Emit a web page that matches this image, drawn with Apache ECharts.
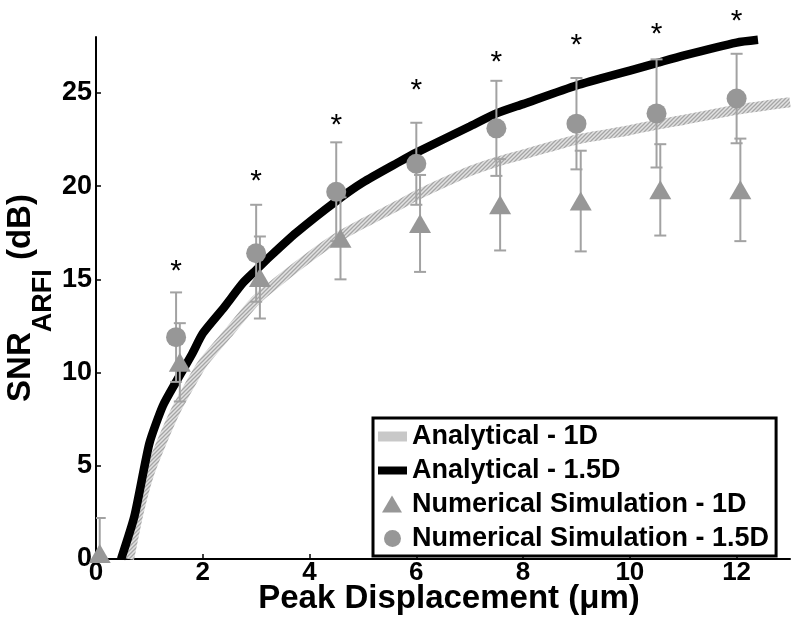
<!DOCTYPE html>
<html><head><meta charset="utf-8">
<script src="https://cdn.jsdelivr.net/npm/echarts@6/dist/echarts.min.js"></script>
<style>html,body{margin:0;padding:0;background:#fff}#c{width:800px;height:637px}</style>
</head><body><div id="c"></div>
<script>
// ---- tick labels ----
const xTicks = [0, 2, 4, 6, 8, 10, 12];
const yTicks = [0, 5, 10, 15, 20, 25];
const legendNames = ['Analytical - 1D', 'Analytical - 1.5D', 'Numerical Simulation - 1D', 'Numerical Simulation - 1.5D'];

// ---- Analytical 1D (grey curve) ----
const ana1D_x = [0.62, 0.8, 1.0, 1.25, 1.5, 1.75, 2.0, 2.5, 3.0, 3.5, 4.0, 4.5, 5.0, 5.68, 6.0, 7.0, 7.5, 8.0, 9.0, 10.0, 10.5, 11.0, 12.0, 13.0];
const ana1D_y = [0, 2.5, 4.6, 6.4, 8.0, 9.3, 10.5, 12.2, 13.9, 15.1, 16.2, 17.2, 18.0, 19.0, 19.5, 20.8, 21.3, 21.7, 22.5, 23.0, 23.3, 23.55, 24.1, 24.5];

// ---- Analytical 1.5D (black curve) ----
const ana15D_x = [0.47, 0.72, 1.0, 1.25, 1.5, 1.8, 2.0, 2.4, 2.75, 3.0, 3.25, 3.75, 4.5, 5.0, 5.68, 6.0, 7.0, 7.5, 8.0, 9.0, 10.0, 10.5, 11.0, 12.0, 12.4];
const ana15D_y = [0, 2.3, 6.2, 8.2, 9.5, 11.0, 12.1, 13.5, 14.8, 15.5, 16.2, 17.5, 19.2, 20.2, 21.3, 21.8, 23.2, 23.9, 24.4, 25.4, 26.2, 26.6, 27.0, 27.7, 27.85];

// ---- Numerical simulation 1D (triangles) ----
const sim1D_x = [0.07, 1.57, 3.07, 4.58, 6.07, 7.57, 9.08, 10.57, 12.07];
const sim1D_y = [0.3, 10.55, 15.1, 17.2, 18.0, 19.0, 19.2, 19.8, 19.8];
const sim1D_err = [1.9, 2.1, 2.2, 2.2, 2.6, 2.45, 2.7, 2.45, 2.75];

// ---- Numerical simulation 1.5D (circles) ----
const sim15D_x = [1.5, 3, 4.5, 6, 7.5, 9, 10.5, 12];
const sim15D_y = [11.9, 16.4, 19.7, 21.2, 23.1, 23.35, 23.9, 24.7];
const sim15D_err = [2.4, 2.6, 2.65, 2.2, 2.55, 2.45, 2.9, 2.4];

// ---- significance markers ----
const star_x = [1.5, 3, 4.5, 6, 7.5, 9, 10.5, 12];
const star_y = [15.8, 20.6, 23.6, 25.5, 27.0, 27.9, 28.5, 29.2];

const FONT = 'Liberation Sans, Arial, sans-serif';
const MARK = '#979797';
const ERR = '#a2a2a2';

const zip = (a, b) => a.map((v, i) => [v, b[i]]);
const zip3 = (a, b, c) => a.map((v, i) => [v, b[i], c[i]]);

function makeHatch() {
  const c = document.createElement('canvas');
  c.width = 4; c.height = 4;
  const g = c.getContext('2d');
  g.fillStyle = '#e2e2e2'; g.fillRect(0, 0, 4, 4);
  g.strokeStyle = '#a6a6a6'; g.lineWidth = 1.3;
  g.beginPath();
  g.moveTo(0, 4); g.lineTo(4, 0);
  g.moveTo(-1, 1); g.lineTo(1, -1);
  g.moveTo(3, 5); g.lineTo(5, 3);
  g.stroke();
  return c;
}
const HATCH = { image: makeHatch(), repeat: 'repeat' };

function errRender(params, api) {
  const x = api.value(0), y = api.value(1), e = api.value(2);
  const t = api.coord([x, y + e]);
  const b = api.coord([x, y - e]);
  const hw = 6;
  const st = { stroke: ERR, lineWidth: 2 };
  return { type: 'group', children: [
    { type: 'line', shape: { x1: t[0], y1: t[1], x2: b[0], y2: b[1] }, style: st },
    { type: 'line', shape: { x1: t[0] - hw, y1: t[1], x2: t[0] + hw, y2: t[1] }, style: st },
    { type: 'line', shape: { x1: b[0] - hw, y1: b[1], x2: b[0] + hw, y2: b[1] }, style: st }
  ]};
}

function starRender(params, api) {
  const p = api.coord([api.value(0), api.value(1)]);
  return { type: 'text', x: p[0], y: p[1] + 7,
    style: { text: '*', fontSize: 30, fontFamily: FONT, fill: '#000', align: 'center', verticalAlign: 'middle' } };
}

const chart = echarts.init(document.getElementById('c'), null, { renderer: 'canvas' });
chart.setOption({
  backgroundColor: '#fff',
  animation: false,
  grid: { left: 96, right: 10, top: 37, bottom: 78, containLabel: false, outerBoundsMode: 'none' },
  xAxis: {
    type: 'value', min: 0, max: 13, interval: 2,
    name: 'Peak Displacement (\u03bcm)', nameLocation: 'middle', nameGap: 23, nameMoveOverlap: false,
    nameTextStyle: { fontSize: 33, fontWeight: 'bold', fontFamily: FONT, color: '#000', padding: [0, 0, 0, 12] },
    axisLine: { show: true, onZero: false, lineStyle: { color: '#000', width: 2 } },
    axisTick: { show: true, inside: true, length: 5, lineStyle: { color: '#000', width: 1.5 }, customValues: xTicks },
    axisLabel: { show: true, margin: 1, fontSize: 26, fontWeight: 'bold', fontFamily: FONT, color: '#000', customValues: xTicks },
    splitLine: { show: false }
  },
  yAxis: {
    type: 'value', min: 0, max: 28, interval: 5,
    name: '{m|SNR}{s|ARFI}{m| (dB)}', nameLocation: 'middle', nameRotate: 90, nameGap: 45, nameMoveOverlap: false,
    nameTextStyle: {
      color: '#000',
      rich: {
        m: { fontSize: 33, fontWeight: 'bold', fontFamily: FONT, color: '#000', lineHeight: 60 },
        s: { fontSize: 27, fontWeight: 'bold', fontFamily: FONT, color: '#000', lineHeight: 60, padding: [46, 0, 0, 0] }
      }
    },
    axisLine: { show: true, onZero: false, lineStyle: { color: '#000', width: 2 } },
    axisTick: { show: true, inside: true, length: 5, lineStyle: { color: '#000', width: 1.5 }, customValues: yTicks },
    axisLabel: { show: true, margin: 4, fontSize: 27, fontWeight: 'bold', fontFamily: FONT, color: '#000', customValues: yTicks },
    splitLine: { show: false }
  },
  legend: {
    orient: 'vertical', left: 373, top: 418,
    padding: [5, 7, 4, 2], itemGap: 7, itemWidth: 32, itemHeight: 20,
    backgroundColor: '#fff', borderColor: '#000', borderWidth: 3, borderRadius: 0,
    selectedMode: false,
    textStyle: { fontFamily: FONT, fontWeight: 'bold', fontSize: 27, color: '#000' },
    data: [
      { name: legendNames[0], icon: 'path://M0,0M32,20M3,5L32,5L32,15L3,15Z', itemStyle: { color: '#c8c8c8' } },
      { name: legendNames[1], icon: 'path://M0,0M32,20M3,6L32,6L32,14L3,14Z', itemStyle: { color: '#000' } },
      { name: legendNames[2], icon: 'path://M0,0M32,20M7,18L17,1L27,18Z', itemStyle: { color: MARK } },
      { name: legendNames[3], icon: 'path://M0,0M32,20M9,10A8.5,8.5,0,1,0,26,10A8.5,8.5,0,1,0,9,10Z', itemStyle: { color: MARK } }
    ]
  },
  series: [
    { name: legendNames[0], type: 'line', data: zip(ana1D_x, ana1D_y), showSymbol: false, symbol: 'none', smooth: 0.2,
      lineStyle: { color: HATCH, width: 10 }, itemStyle: { color: '#c8c8c8' }, z: 2, clip: true },
    { name: legendNames[1], type: 'line', data: zip(ana15D_x, ana15D_y), showSymbol: false, symbol: 'none', smooth: 0.2,
      lineStyle: { color: '#000', width: 8.5, cap: 'butt' }, itemStyle: { color: '#000' }, z: 3, clip: true },
    { name: 'err1D', type: 'custom', data: zip3(sim1D_x, sim1D_y, sim1D_err), renderItem: errRender,
      encode: { x: 0, y: 1 }, clip: true, z: 4, silent: true },
    { name: 'err15D', type: 'custom', data: zip3(sim15D_x, sim15D_y, sim15D_err), renderItem: errRender,
      encode: { x: 0, y: 1 }, clip: true, z: 4, silent: true },
    { name: legendNames[2], type: 'scatter', data: zip(sim1D_x, sim1D_y), symbol: 'triangle', symbolSize: [22, 19],
      itemStyle: { color: MARK, opacity: 1 }, z: 5, clip: false },
    { name: legendNames[3], type: 'scatter', data: zip(sim15D_x, sim15D_y), symbol: 'circle', symbolSize: 20,
      itemStyle: { color: MARK, opacity: 1 }, z: 5, clip: false },
    { name: 'stars', type: 'custom', data: zip(star_x, star_y), renderItem: starRender,
      encode: { x: 0, y: 1 }, clip: false, z: 6, silent: true }
  ]
});
</script>
</body></html>
